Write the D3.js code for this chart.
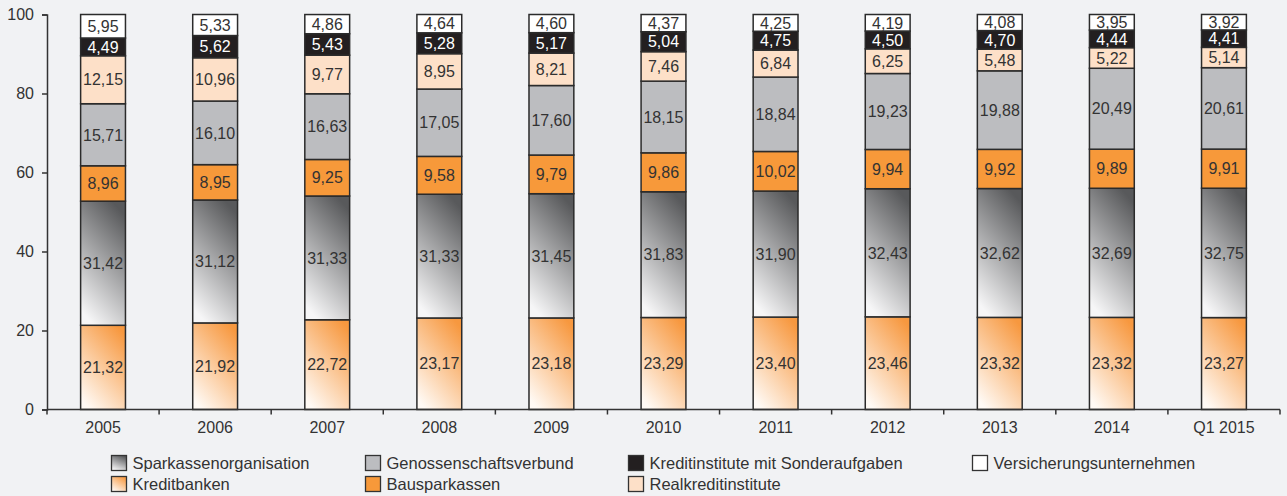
<!DOCTYPE html>
<html>
<head>
<meta charset="utf-8">
<script src="https://cdn.jsdelivr.net/npm/d3@7"></script>
<style>
  body { margin: 0; background: #f1f2f4; }
  svg { display: block; font-family: "Liberation Sans", Arial, sans-serif; }
</style>
</head>
<body>
<div id="chart"></div>
<script>
var years = ["2005", "2006", "2007", "2008", "2009", "2010", "2011", "2012", "2013", "2014", "Q1 2015"];
var seriesNames = ["Kreditbanken", "Sparkassenorganisation", "Bausparkassen", "Genossenschaftsverbund",
                   "Realkreditinstitute", "Kreditinstitute mit Sonderaufgaben", "Versicherungsunternehmen"];
var kreditbanken  = [21.32, 21.92, 22.72, 23.17, 23.18, 23.29, 23.40, 23.46, 23.32, 23.32, 23.27];
var sparkassen    = [31.42, 31.12, 31.33, 31.33, 31.45, 31.83, 31.90, 32.43, 32.62, 32.69, 32.75];
var bausparkassen = [8.96, 8.95, 9.25, 9.58, 9.79, 9.86, 10.02, 9.94, 9.92, 9.89, 9.91];
var genossen      = [15.71, 16.10, 16.63, 17.05, 17.60, 18.15, 18.84, 19.23, 19.88, 20.49, 20.61];
var realkredit    = [12.15, 10.96, 9.77, 8.95, 8.21, 7.46, 6.84, 6.25, 5.48, 5.22, 5.14];
var sonder        = [4.49, 5.62, 5.43, 5.28, 5.17, 5.04, 4.75, 4.50, 4.70, 4.44, 4.41];
var versicherung  = [5.95, 5.33, 4.86, 4.64, 4.60, 4.37, 4.25, 4.19, 4.08, 3.95, 3.92];
var yTicks = [0, 20, 40, 60, 80, 100];

var seriesValues = [kreditbanken, sparkassen, bausparkassen, genossen, realkredit, sonder, versicherung];
var fills = ["url(#gradKB)", "url(#gradSK)", "#f7993a", "#bcbdc0", "#fde0c8", "#231f20", "#ffffff"];
var textColors = ["#333", "#333", "#333", "#333", "#333", "#fff", "#333"];

var W = 1287, H = 496;
var svg = d3.select("#chart").append("svg").attr("width", W).attr("height", H);

var defs = svg.append("defs");
var gKB = defs.append("linearGradient").attr("id", "gradKB")
  .attr("x1", "80%").attr("y1", "0%").attr("x2", "20%").attr("y2", "100%");
gKB.append("stop").attr("offset", "0%").attr("stop-color", "#f7983f");
gKB.append("stop").attr("offset", "100%").attr("stop-color", "#fffaf5");
var gSK = defs.append("linearGradient").attr("id", "gradSK")
  .attr("x1", "70%").attr("y1", "0%").attr("x2", "30%").attr("y2", "100%");
gSK.append("stop").attr("offset", "0%").attr("stop-color", "#58595b");
gSK.append("stop").attr("offset", "100%").attr("stop-color", "#f6f6f7");

var plotLeft = 47, plotRight = 1280, plotTop = 14.5, plotBottom = 409.5;

var x = d3.scaleBand().domain(years).range([plotLeft, plotRight]).paddingInner(0.6).paddingOuter(0.3);
var y = d3.scaleLinear().domain([0, 100]).range([plotBottom, plotTop]);

// stacked data
var table = years.map(function (yr, i) {
  var row = { year: yr };
  seriesNames.forEach(function (s, j) { row[s] = seriesValues[j][i]; });
  return row;
});
var stacked = d3.stack().keys(seriesNames)(table);

var layers = svg.selectAll("g.layer").data(stacked).enter().append("g").attr("class", "layer");

layers.selectAll("rect")
  .data(function (d, j) { return d.map(function (p) { return { p: p, j: j }; }); })
  .enter().append("rect")
    .attr("x", function (d) { return x(d.p.data.year); })
    .attr("y", function (d) { return y(d.p[1]); })
    .attr("width", x.bandwidth())
    .attr("height", function (d) { return y(d.p[0]) - y(d.p[1]); })
    .attr("fill", function (d) { return fills[d.j]; })
    .attr("stroke", "#2b2b2b")
    .attr("stroke-width", 1.5);

layers.selectAll("text")
  .data(function (d, j) { return d.map(function (p) { return { p: p, j: j }; }); })
  .enter().append("text")
    .attr("x", function (d) { return x(d.p.data.year) + x.bandwidth() / 2; })
    .attr("y", function (d) { return (y(d.p[0]) + y(d.p[1])) / 2; })
    .attr("dy", "0.36em")
    .attr("text-anchor", "middle")
    .attr("font-size", 16)
    .attr("fill", function (d) { return textColors[d.j]; })
    .text(function (d) { return d3.format(".2f")(d.p[1] - d.p[0]).replace(".", ","); });

// axes
var yAxis = svg.append("g").attr("transform", "translate(" + plotLeft + ",0)")
  .call(d3.axisLeft(y).tickValues(yTicks).tickSize(5).tickPadding(8));
var xAxis = svg.append("g").attr("transform", "translate(0," + plotBottom + ")")
  .call(d3.axisBottom(x).tickSize(0).tickPadding(12));

[yAxis, xAxis].forEach(function (a) {
  a.selectAll("path, line").attr("stroke", "#333").attr("stroke-width", 1.5);
  a.selectAll("text").attr("font-size", 16).attr("fill", "#333")
    .attr("font-family", "'Liberation Sans', Arial, sans-serif");
});
xAxis.select("path").attr("d", "M" + plotLeft + ",0H" + plotRight);

// x ticks between bands
var bounds = years.map(function (yr) { return x(yr) - x.step() * x.paddingInner() / 2; });
bounds.push(plotRight);
xAxis.selectAll("line.sep").data(bounds).enter().append("line").attr("class", "sep")
  .attr("x1", function (d) { return d; }).attr("x2", function (d) { return d; })
  .attr("y1", 0).attr("y2", 5).attr("stroke", "#333").attr("stroke-width", 1.5);

// legend
var legendOrder = ["Sparkassenorganisation", "Genossenschaftsverbund", "Kreditinstitute mit Sonderaufgaben",
                   "Versicherungsunternehmen", "Kreditbanken", "Bausparkassen", "Realkreditinstitute"];
var legCols = [111, 365, 628, 972];
var legRows = [463, 484];
var legend = svg.append("g");
legendOrder.forEach(function (name, i) {
  var col = i < 4 ? i : i - 4, row = i < 4 ? 0 : 1;
  var j = seriesNames.indexOf(name);
  var g = legend.append("g").attr("transform", "translate(" + legCols[col] + "," + legRows[row] + ")");
  g.append("rect").attr("x", 0.5).attr("y", -7.5).attr("width", 15).attr("height", 15)
    .attr("fill", fills[j]).attr("stroke", "#333").attr("stroke-width", 1.3);
  g.append("text").attr("x", 21.5).attr("y", 0).attr("dy", "0.36em")
    .attr("font-size", 16.5).attr("fill", "#333").text(name);
});
</script>
</body>
</html>
